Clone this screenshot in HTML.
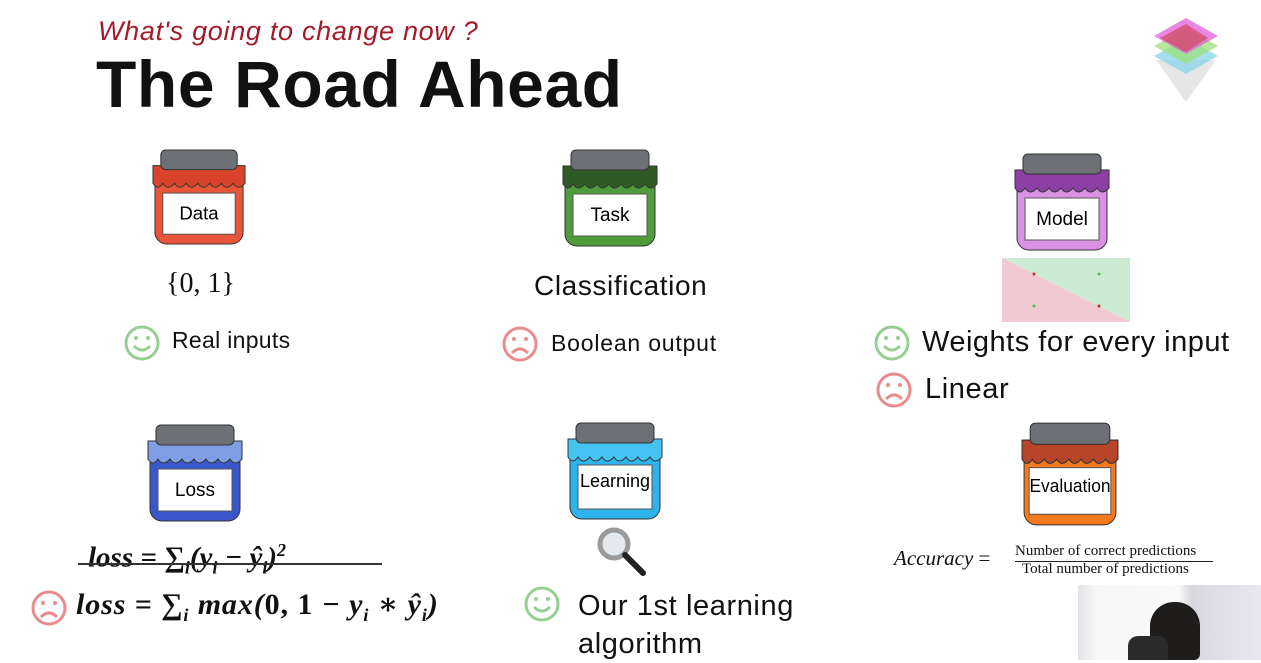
<!DOCTYPE html>
<html><head><meta charset="utf-8"><style>
body{margin:0;width:1261px;height:660px;background:#fff;position:relative;overflow:hidden;font-family:"Liberation Sans","DejaVu Sans",sans-serif;color:#111}
.a{position:absolute;white-space:nowrap}
.m{font-family:"Liberation Serif","DejaVu Serif",serif;font-style:italic}
.r{font-family:"Liberation Serif","DejaVu Serif",serif;font-style:normal}
svg{position:absolute;overflow:visible}
</style></head><body>
<div class="a" style="left:98px;top:16px;font-size:27px;font-style:italic;color:#a31b2a;letter-spacing:0.7px">What's going to change now ?</div>
<div class="a" style="left:96px;top:46px;font-size:66px;font-weight:bold;letter-spacing:0.6px">The Road Ahead</div>

<svg style="left:1148px;top:16px" width="76" height="86" viewBox="0 0 76 86">
<polygon points="8,44 68,44 38,86" fill="#e6e6e6"/>
<polygon points="6,40 38,22 70,40 38,58" fill="#8fd6ea" opacity=".8"/>
<polygon points="6,30 38,12 70,30 38,48" fill="#9ee07a" opacity=".75"/>
<polygon points="6,20 38,2 70,20 38,38" fill="#e060d8" opacity=".75"/>
<polygon points="12,22 38,8 60,22 38,36" fill="#d0404a" opacity=".6"/>
</svg>

<!-- jars -->
<svg style="left:152px;top:147px" width="94" height="100" viewBox="0 0 96 100"><rect x="3" y="26" width="90" height="72" rx="12" fill="#e8553a" stroke="#333"/><path d="M1 18 H95 V36 q-7 8 -12 0 q-7 8 -12 0 q-7 8 -12 0 q-7 8 -12 0 q-7 8 -12 0 q-7 8 -12 0 q-7 8 -12 0 q-5 8 -10 0Z" fill="#d8432a" stroke="#333"/><rect x="9" y="2" width="78" height="20" rx="5" fill="#6d7176" stroke="#333"/><rect x="11" y="46" width="74" height="42" fill="#fff" stroke="#555"/><text x="48" y="73" font-size="19" text-anchor="middle" font-family="Liberation Sans">Data</text></svg>
<svg style="left:562px;top:147px" width="96" height="102" viewBox="0 0 96 100"><rect x="3" y="26" width="90" height="72" rx="12" fill="#4f9c3c" stroke="#333"/><path d="M1 18 H95 V36 q-7 8 -12 0 q-7 8 -12 0 q-7 8 -12 0 q-7 8 -12 0 q-7 8 -12 0 q-7 8 -12 0 q-7 8 -12 0 q-5 8 -10 0Z" fill="#2f5a25" stroke="#333"/><rect x="9" y="2" width="78" height="20" rx="5" fill="#6d7176" stroke="#333"/><rect x="11" y="46" width="74" height="42" fill="#fff" stroke="#555"/><text x="48" y="73" font-size="19" text-anchor="middle" font-family="Liberation Sans">Task</text></svg>
<svg style="left:1014px;top:150px" width="96" height="104" viewBox="0 0 96 100"><rect x="3" y="26" width="90" height="72" rx="12" fill="#dc92e4" stroke="#333"/><path d="M1 18 H95 V36 q-7 8 -12 0 q-7 8 -12 0 q-7 8 -12 0 q-7 8 -12 0 q-7 8 -12 0 q-7 8 -12 0 q-7 8 -12 0 q-5 8 -10 0Z" fill="#8e3fa6" stroke="#333"/><rect x="9" y="2" width="78" height="20" rx="5" fill="#6d7176" stroke="#333"/><rect x="11" y="46" width="74" height="42" fill="#fff" stroke="#555"/><text x="48" y="73" font-size="19" text-anchor="middle" font-family="Liberation Sans">Model</text></svg>
<svg style="left:147px;top:423px" width="96" height="100" viewBox="0 0 96 100"><rect x="3" y="26" width="90" height="72" rx="12" fill="#3a58cc" stroke="#333"/><path d="M1 18 H95 V36 q-7 8 -12 0 q-7 8 -12 0 q-7 8 -12 0 q-7 8 -12 0 q-7 8 -12 0 q-7 8 -12 0 q-7 8 -12 0 q-5 8 -10 0Z" fill="#7f9ee4" stroke="#333"/><rect x="9" y="2" width="78" height="20" rx="5" fill="#6d7176" stroke="#333"/><rect x="11" y="46" width="74" height="42" fill="#fff" stroke="#555"/><text x="48" y="73" font-size="19" text-anchor="middle" font-family="Liberation Sans">Loss</text></svg>
<svg style="left:567px;top:420px" width="96" height="102" viewBox="0 0 96 100"><rect x="3" y="26" width="90" height="72" rx="12" fill="#2eb4ec" stroke="#333"/><path d="M1 18 H95 V36 q-7 8 -12 0 q-7 8 -12 0 q-7 8 -12 0 q-7 8 -12 0 q-7 8 -12 0 q-7 8 -12 0 q-7 8 -12 0 q-5 8 -10 0Z" fill="#45c4f4" stroke="#333"/><rect x="9" y="2" width="78" height="20" rx="5" fill="#6d7176" stroke="#333"/><rect x="11" y="44" width="74" height="44" fill="#fff" stroke="#555"/><text x="48" y="66" font-size="18" text-anchor="middle" font-family="Liberation Sans">Learning</text></svg>
<svg style="left:1021px;top:421px" width="98" height="106" viewBox="0 0 96 100" preserveAspectRatio="none"><rect x="3" y="26" width="90" height="72" rx="12" fill="#f47a1c" stroke="#333"/><path d="M1 18 H95 V36 q-7 8 -12 0 q-7 8 -12 0 q-7 8 -12 0 q-7 8 -12 0 q-7 8 -12 0 q-7 8 -12 0 q-7 8 -12 0 q-5 8 -10 0Z" fill="#b8452a" stroke="#333"/><rect x="9" y="2" width="78" height="20" rx="5" fill="#6d7176" stroke="#333"/><rect x="8" y="44" width="80" height="44" fill="#fff" stroke="#555"/><text x="48" y="67" font-size="17" text-anchor="middle" font-family="Liberation Sans">Evaluation</text></svg>

<!-- chart -->
<svg style="left:1002px;top:258px" width="128" height="64" viewBox="0 0 128 64"><polygon points="0,0 128,64 0,64" fill="#f2c9d2"/><polygon points="0,0 128,0 128,64" fill="#cdebd2"/><circle cx="32" cy="16" r="1.5" fill="#b33"/><circle cx="97" cy="48" r="1.5" fill="#b33"/><circle cx="97" cy="16" r="1.5" fill="#5b5"/><circle cx="32" cy="48" r="1.5" fill="#5b5"/></svg>

<!-- magnifier -->
<svg style="left:596px;top:526px" width="56" height="52"><circle cx="18" cy="18" r="14" fill="#e4e9ee" stroke="#9a9a9a" stroke-width="5"/><line x1="29" y1="29" x2="47" y2="47" stroke="#222" stroke-width="6" stroke-linecap="round"/></svg>

<!-- smileys -->
<svg style="left:124px;top:325px" width="36" height="36"><circle cx="18" cy="18" r="16" fill="none" stroke="#97cf93" stroke-width="3"/><circle cx="12" cy="13" r="2" fill="#97cf93"/><circle cx="24" cy="13" r="2" fill="#97cf93"/><path d="M10 21 q8 8 16 0" fill="none" stroke="#97cf93" stroke-width="3"/></svg>
<svg style="left:502px;top:326px" width="36" height="36"><circle cx="18" cy="18" r="16" fill="none" stroke="#e88c8c" stroke-width="3"/><circle cx="12" cy="13" r="2" fill="#e88c8c"/><circle cx="24" cy="13" r="2" fill="#e88c8c"/><path d="M10 27 q8 -8 16 0" fill="none" stroke="#e88c8c" stroke-width="3"/></svg>
<svg style="left:874px;top:325px" width="36" height="36"><circle cx="18" cy="18" r="16" fill="none" stroke="#97cf93" stroke-width="3"/><circle cx="12" cy="13" r="2" fill="#97cf93"/><circle cx="24" cy="13" r="2" fill="#97cf93"/><path d="M10 21 q8 8 16 0" fill="none" stroke="#97cf93" stroke-width="3"/></svg>
<svg style="left:876px;top:372px" width="36" height="36"><circle cx="18" cy="18" r="16" fill="none" stroke="#e88c8c" stroke-width="3"/><circle cx="12" cy="13" r="2" fill="#e88c8c"/><circle cx="24" cy="13" r="2" fill="#e88c8c"/><path d="M10 27 q8 -8 16 0" fill="none" stroke="#e88c8c" stroke-width="3"/></svg>
<svg style="left:31px;top:590px" width="36" height="36"><circle cx="18" cy="18" r="16" fill="none" stroke="#e88c8c" stroke-width="3"/><circle cx="12" cy="13" r="2" fill="#e88c8c"/><circle cx="24" cy="13" r="2" fill="#e88c8c"/><path d="M10 27 q8 -8 16 0" fill="none" stroke="#e88c8c" stroke-width="3"/></svg>
<svg style="left:524px;top:586px" width="36" height="36"><circle cx="18" cy="18" r="16" fill="none" stroke="#97cf93" stroke-width="3"/><circle cx="12" cy="13" r="2" fill="#97cf93"/><circle cx="24" cy="13" r="2" fill="#97cf93"/><path d="M10 21 q8 8 16 0" fill="none" stroke="#97cf93" stroke-width="3"/></svg>

<div class="a r" style="left:166px;top:268px;font-size:28px">{0, 1}</div>
<div class="a" style="left:172px;top:327px;font-size:23px;letter-spacing:0.3px">Real inputs</div>
<div class="a" style="left:534px;top:270px;font-size:28px;letter-spacing:0.6px">Classification</div>
<div class="a" style="left:551px;top:330px;font-size:23px;letter-spacing:0.8px">Boolean output</div>
<div class="a" style="left:922px;top:326px;font-size:29px;letter-spacing:0.5px">Weights for every input</div>
<div class="a" style="left:925px;top:373px;font-size:29px;letter-spacing:0.6px">Linear</div>
<div class="a" style="left:578px;top:587px;font-size:29px;line-height:38px;letter-spacing:0.6px">Our 1st learning<br>algorithm</div>

<div class="a m" style="left:88px;top:540px;font-size:29px;font-weight:bold">loss = <span class="r">∑</span><sub style="font-size:18px">i</sub>(y<sub style="font-size:18px">i</sub> − ŷ<sub style="font-size:18px">i</sub>)<sup style="font-size:18px">2</sup></div>
<div class="a" style="left:78px;top:563px;width:304px;height:2px;background:#333"></div>
<div class="a m" style="left:76px;top:587px;font-size:30px;font-weight:bold;letter-spacing:0.9px">loss = <span class="r">∑</span><sub style="font-size:18px">i</sub> max(<span class="r">0, 1</span> − y<sub style="font-size:18px">i</sub> ∗ ŷ<sub style="font-size:18px">i</sub>)</div>

<div class="a m" style="left:894px;top:546px;font-size:21px">Accuracy <span class="r">=</span></div>
<div class="a r" style="left:1015px;top:543px;font-size:15px">Number of correct predictions</div>
<div class="a" style="left:1015px;top:561px;width:198px;height:1px;background:#222"></div>
<div class="a r" style="left:1022px;top:561px;font-size:15px">Total number of predictions</div>

<!-- webcam -->
<div class="a" style="left:1078px;top:585px;width:183px;height:75px;background:linear-gradient(90deg,#e4e4e8 0%,#f7f7f7 10%,#fafafa 55%,#d8d8de 62%,#e8e8ee 100%)"></div>
<div class="a" style="left:1150px;top:602px;width:50px;height:58px;background:#1f1c1c;border-radius:24px 24px 6px 6px"></div>
<div class="a" style="left:1128px;top:636px;width:40px;height:24px;background:#2a2a2a;border-radius:10px 10px 0 0"></div>
</body></html>
